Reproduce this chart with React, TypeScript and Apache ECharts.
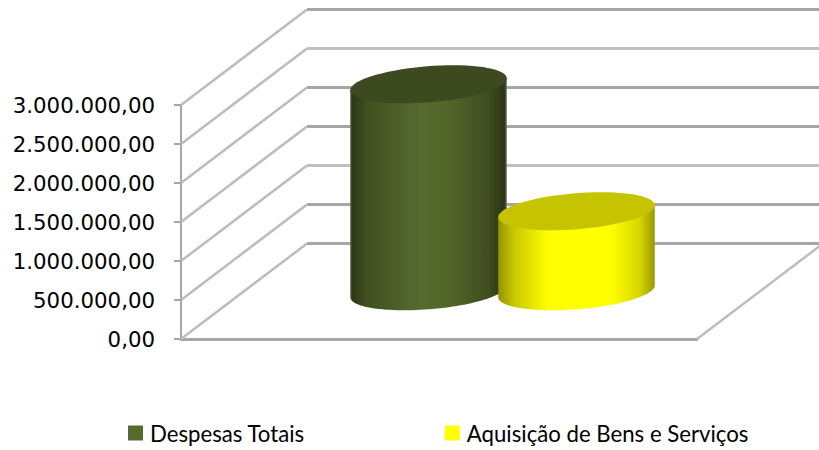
import React, { useEffect, useRef } from "react";
import * as echarts from "echarts";

const categories = ["Despesas"];
const seriesNames = ["Despesas Totais", "Aquisição de Bens e Serviços"];
const despesasTotais = [2654000];
const aquisicaoBens = [1026000];
const yTicks = [0, 500000, 1000000, 1500000, 2000000, 2500000, 3000000];
const yTickLabels = ["0,00", "500.000,00", "1.000.000,00", "1.500.000,00", "2.000.000,00", "2.500.000,00", "3.000.000,00"];

const DEPTH_X = 126;
const DEPTH_Y = -95.5;
const WALL_RIGHT = 819;
const A = 78.5;
const B = 18;
const TILT = (-4.6 * Math.PI) / 180;
const GREEN_STOPS = [
  [0, "#5f6654"], [0.012, "#2e3818"], [0.1, "#404f20"], [0.45, "#576b30"], [0.62, "#526629"], [0.88, "#404e20"], [0.985, "#2c3516"], [1, "#6a6d60"],
];
const YELLOW_STOPS = [
  [0, "#939300"], [0.1, "#c8c800"], [0.32, "#ffff00"], [0.72, "#ffff00"], [0.9, "#d8d800"], [1, "#999900"],
];

function ellipsePoint(cx: number, cy: number, t: number) {
  const c = Math.cos(t), s = Math.sin(t);
  return [cx + A * c * Math.cos(TILT) - B * s * Math.sin(TILT), cy + A * c * Math.sin(TILT) + B * s * Math.cos(TILT)];
}

function cylinder(offsetX: number, stops: any[], capColor: string) {
  return (_params: any, api: any) => {
    const base = api.coord([api.value(0), 0]);
    const top = api.coord([api.value(0), api.value(1)]);
    const cx = base[0] + DEPTH_X / 2 + offsetX;
    const by = base[1] + DEPTH_Y / 2;
    const ty = top[1] + DEPTH_Y / 2;
    const tRight = Math.atan2(-B * Math.sin(TILT), A * Math.cos(TILT));
    const body: number[][] = [];
    const n = 60;
    for (let i = 0; i <= n; i++) body.push(ellipsePoint(cx, by, tRight + (Math.PI * i) / n));
    body.push(ellipsePoint(cx, ty, tRight + Math.PI));
    body.push(ellipsePoint(cx, ty, tRight));
    const cap: number[][] = [];
    for (let i = 0; i < 72; i++) cap.push(ellipsePoint(cx, ty, (i / 72) * Math.PI * 2));
    return {
      type: "group",
      children: [
        {
          type: "polygon",
          shape: { points: body },
          style: {
            fill: new echarts.graphic.LinearGradient(0, 0, 1, 0, stops.map(([offset, color]) => ({ offset, color }))),
          },
        },
        { type: "polygon", shape: { points: cap }, style: { fill: capColor } },
      ],
    };
  };
}

function renderWall(_params: any, api: any) {
  const tick = api.value(1);
  const center = api.coord([0, tick]);
  const frontX = center[0] - api.size([1, 0])[0] / 2;
  const backX = frontX + DEPTH_X;
  const backY = center[1] + DEPTH_Y;
  const light = tick === 1000000 || tick === 2500000;
  return {
    type: "group",
    children: [
      {
        type: "line",
        shape: { x1: backX, y1: backY, x2: WALL_RIGHT, y2: backY },
        style: { stroke: light ? "#c0c0c0" : "#a6a6a6", lineWidth: 3 },
      },
      {
        type: "line",
        shape: { x1: frontX, y1: center[1], x2: backX, y2: backY },
        style: { stroke: "#bcbcbc", lineWidth: 2.5 },
      },
    ],
  };
}

function renderFloorEdge(_params: any, api: any) {
  const base = api.coord([0, 0]);
  const size = api.size([1, 0]);
  const x = base[0] + size[0] / 2;
  return {
    type: "line",
    shape: { x1: x, y1: base[1], x2: x + DEPTH_X, y2: base[1] + DEPTH_Y },
    style: { stroke: "#bcbcbc", lineWidth: 2.5 },
  };
}

export default function App() {
  const ref = useRef<HTMLDivElement>(null);
  useEffect(() => {
    const chart = echarts.init(ref.current!, null, { renderer: "svg" });
    chart.setOption({
      animation: false,
      backgroundColor: "#ffffff",
      grid: { left: 181, top: 105, width: 516, height: 234 },
      xAxis: {
        type: "category",
        data: categories,
        axisLine: { lineStyle: { color: "#a6a6a6", width: 3 } },
        axisTick: { show: false },
        axisLabel: { show: false },
      },
      yAxis: {
        type: "value",
        min: 0,
        max: 3000000,
        interval: 500000,
        axisLine: { show: true, lineStyle: { color: "#a6a6a6", width: 2 } },
        axisTick: { show: true, length: 7, lineStyle: { color: "#a6a6a6", width: 2 } },
        splitLine: { show: false },
        axisLabel: {
          margin: 26,
          fontFamily: "DejaVu Sans",
          fontSize: 21.3,
          color: "#000000",
          formatter: (v: number) => yTickLabels[yTicks.indexOf(v)],
        },
      },
      legend: {
        left: 128,
        top: 422,
        padding: 0,
        icon: "rect",
        itemWidth: 15,
        itemHeight: 15,
        itemGap: 140,
        selectedMode: false,
        textStyle: { fontFamily: "Lato", fontSize: 22.2, color: "#000000", padding: [0, 0, 0, 2] },
        data: seriesNames,
      },
      series: [
        {
          type: "custom",
          name: "wall",
          silent: true,
          renderItem: renderWall,
          data: yTicks.map((t) => [0, t]),
          encode: { x: 0, y: 1 },
          z: 1,
        },
        {
          type: "custom",
          name: "floor",
          silent: true,
          renderItem: renderFloorEdge,
          data: [[0, 0]],
          encode: { x: 0, y: 1 },
          z: 1,
        },
        {
          type: "custom",
          name: seriesNames[0],
          renderItem: cylinder(-73.5, GREEN_STOPS, "#3d4a1f"),
          itemStyle: { color: "#556b2f" },
          data: despesasTotais.map((v, i) => [i, v]),
          encode: { x: 0, y: 1 },
          z: 2,
        },
        {
          type: "custom",
          name: seriesNames[1],
          renderItem: cylinder(74.5, YELLOW_STOPS, "#c6c400"),
          itemStyle: { color: "#ffff00" },
          data: aquisicaoBens.map((v, i) => [i, v]),
          encode: { x: 0, y: 1 },
          z: 3,
        },
      ],
    });
    return () => chart.dispose();
  }, []);
  return <div ref={ref} style={{ position: "absolute", left: 0, top: 0, width: 819, height: 450 }} />;
}
